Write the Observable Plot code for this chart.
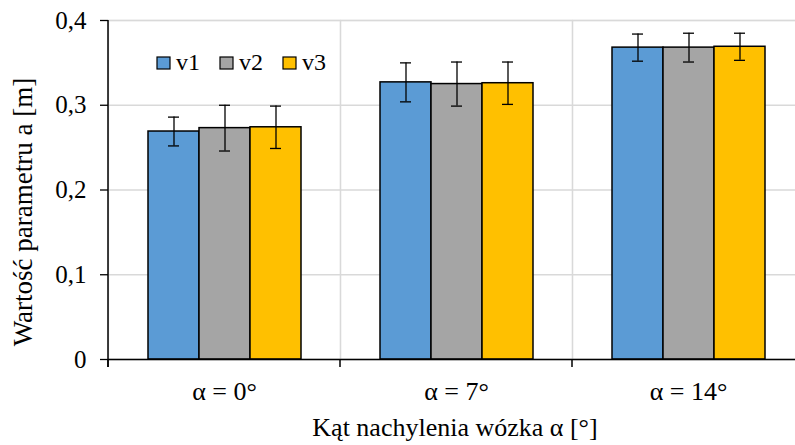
<!DOCTYPE html>
<html>
<head>
<meta charset="utf-8">
<script src="https://cdn.jsdelivr.net/npm/d3@7"></script>
<script src="https://cdn.jsdelivr.net/npm/@observablehq/plot@0.6"></script>
<style>
  body { margin: 0; background: #fff; }
  #chart { position: relative; width: 795px; height: 445px; overflow: hidden; }
</style>
</head>
<body>
<div id="chart"></div>
<script>
// ---- data ----
const categories = ["α = 0°", "α = 7°", "α = 14°"];
const series = ["v1", "v2", "v3"];
const v1 = [0.269, 0.327, 0.368];
const v2 = [0.273, 0.325, 0.368];
const v3 = [0.274, 0.326, 0.369];
const e1 = [0.017, 0.023, 0.016];
const e2 = [0.027, 0.026, 0.017];
const e3 = [0.025, 0.025, 0.016];
const yTicks = [0, 0.1, 0.2, 0.3, 0.4];
const colors = ["#5B9BD5", "#A5A5A5", "#FFC000"];
const xTitle = "Kąt nachylenia wózka α [°]";
const yTitle = "Wartość parametru a [m]";

const values = [v1, v2, v3];
const errors = [e1, e2, e3];
const data = [];
categories.forEach((c, i) => {
  series.forEach((s, j) => {
    data.push({cat: c, series: s, value: values[j][i], err: errors[j][i]});
  });
});

const font = "Liberation Serif";
const fmt = d => d === 0 ? "0" : d.toFixed(1).replace(".", ",");

const chart = Plot.plot({
  width: 795,
  height: 445,
  marginLeft: 108,
  marginRight: -9,
  marginTop: 20,
  marginBottom: 86,
  style: {fontSize: "24px", color: "#000", background: "#fff"},
  fx: {domain: categories, padding: 0, label: null},
  x: {domain: series, paddingInner: 0, paddingOuter: 0.75, axis: null},
  y: {domain: [0, 0.4], label: null},
  color: {domain: series, range: colors},
  marks: [
    Plot.frame({stroke: "#d9d9d9", strokeWidth: 1.3}),
    Plot.gridY(yTicks, {stroke: "#d9d9d9", strokeOpacity: 1, strokeWidth: 1.3}),
    Plot.barY(data, {fx: "cat", x: "series", y: "value", fill: "series", stroke: "#000", strokeWidth: 1.5}),
    Plot.ruleX(data, {fx: "cat", x: "series", y1: d => d.value - d.err, y2: d => d.value + d.err, stroke: "#000", strokeWidth: 1.3}),
    Plot.tickY(data, {fx: "cat", x: "series", y: d => d.value + d.err, stroke: "#000", strokeWidth: 1.3, insetLeft: 20, insetRight: 20}),
    Plot.tickY(data, {fx: "cat", x: "series", y: d => d.value - d.err, stroke: "#000", strokeWidth: 1.3, insetLeft: 20, insetRight: 20}),
    Plot.ruleY([0], {stroke: "#000", strokeWidth: 1.5}),
    Plot.axisY(yTicks, {tickSize: 8, tickPadding: 14, tickFormat: fmt, fontSize: 25, fontFamily: font, strokeWidth: 1.3, label: null}),
    Plot.axisFx({anchor: "bottom", tickSize: 0, tickPadding: 22, fontSize: 26, fontFamily: font, label: null})
  ]
});

document.getElementById("chart").appendChild(chart);

const svg = d3.select(chart);
svg.attr("font-family", font).style("font-family", font);
svg.selectAll("text").attr("font-family", font).style("font-family", font);

// axis line and category boundary ticks, positioned by the library's scales
const fxS = chart.scale("fx");
const yS = chart.scale("y");
const y0 = yS.apply(0);
const yTop = yS.apply(d3.max(yTicks));
const g = svg.append("g").attr("stroke", "#000").attr("stroke-width", 1.5);
g.append("line")
  .attr("x1", fxS.apply(categories[0])).attr("x2", fxS.apply(categories[0]))
  .attr("y1", yTop).attr("y2", y0 + 8);
categories.forEach(c => {
  g.append("line").attr("x1", fxS.apply(c)).attr("x2", fxS.apply(c))
    .attr("y1", y0).attr("y2", y0 + 8);
});

// axis titles
svg.append("text")
  .attr("font-family", font).style("font-family", font)
  .attr("font-size", 26).attr("text-anchor", "middle").attr("fill", "#000")
  .attr("x", 455).attr("y", 436).text(xTitle);
svg.append("text")
  .attr("font-family", font).style("font-family", font)
  .attr("font-size", 27).attr("text-anchor", "middle").attr("fill", "#000")
  .attr("transform", "translate(32,212) rotate(-90)").text(yTitle);

// legend (inside plot area)
const colorS = chart.scale("color");
const lg = svg.append("g").attr("font-family", font).style("font-family", font)
  .attr("font-size", 24).attr("text-anchor", "start");
series.forEach((s, i) => {
  const x0 = 157 + i * 63;
  lg.append("rect").attr("x", x0).attr("y", 57).attr("width", 13).attr("height", 12)
    .attr("fill", colorS.apply(s)).attr("stroke", "#000").attr("stroke-width", 1.2);
  lg.append("text").attr("x", x0 + 19).attr("y", 70).attr("fill", "#000").text(s);
});
</script>
</body>
</html>
